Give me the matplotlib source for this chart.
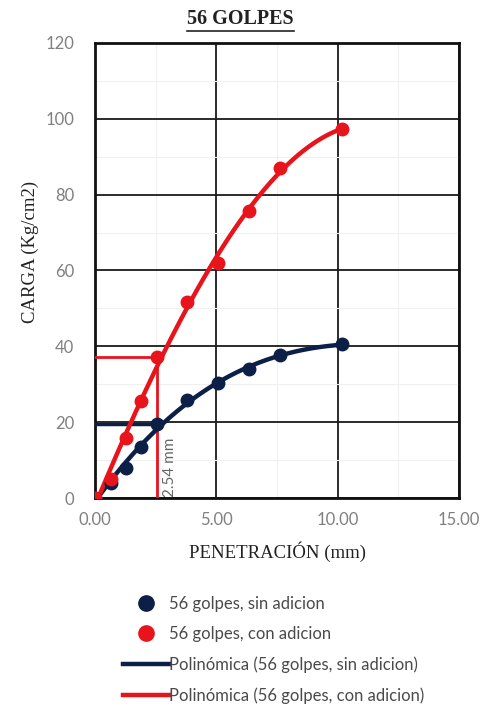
import numpy as np
import matplotlib
matplotlib.use("Agg")
import matplotlib.pyplot as plt
from matplotlib.lines import Line2D

# data
pen = [0.00, 0.64, 1.27, 1.91, 2.54, 3.81, 5.08, 6.35, 7.62, 10.16]
carga_sin = [0.0, 4.0, 8.0, 13.5, 19.4, 25.8, 30.4, 34.1, 37.6, 40.5]
carga_con = [0.0, 5.0, 15.8, 25.5, 37.2, 51.8, 62.0, 75.8, 87.0, 97.2]
ref_pen = 2.54
ref_sin = 19.5
ref_con = 37.2

navy = "#0c1f47"
red = "#e8141c"
gray = "#808080"

fig = plt.figure(figsize=(4.81, 7.09), dpi=100)
ax = fig.add_axes([0.1975, 0.2976, 0.7568, 0.6418])

# fitted polynomial trendlines
xs = np.linspace(0, max(pen), 200)
p_sin = np.polyfit(pen, carga_sin, 3)
p_con = np.polyfit(pen, carga_con, 3)

# reference lines at 2.54 mm
ax.plot([0, ref_pen], [ref_con, ref_con], color=red, lw=2, zorder=3)
ax.plot([ref_pen, ref_pen], [0, ref_con], color=red, lw=2, zorder=3)
ax.plot([0, ref_pen], [ref_sin, ref_sin], color=navy, lw=2.5, zorder=3)
ax.text(ref_pen + 0.25, 0.3, "2.54 mm", rotation=90, fontsize=11, color="#666666",
        ha="left", va="bottom", family="Lato", zorder=6)

ax.plot(xs, np.polyval(p_sin, xs), color=navy, lw=3.2, zorder=4)
ax.plot(xs, np.polyval(p_con, xs), color=red, lw=3.2, zorder=4)
ax.plot(pen, carga_sin, "o", color=navy, ms=9, zorder=5)
ax.plot(pen, carga_con, "o", color=red, ms=9, zorder=5)

ax.set_xlim(0, 15)
ax.set_ylim(0, 120)
ax.set_xticks([0, 5, 10, 15])
ax.set_xticklabels(["0.00", "5.00", "10.00", "15.00"])
ax.set_yticks([0, 20, 40, 60, 80, 100, 120])
ax.set_xticks(np.arange(0, 15.1, 2.5), minor=True)
ax.set_yticks(np.arange(0, 121, 10), minor=True)
ax.grid(True, which="major", color="#1a1a1a", lw=1.3)
ax.grid(True, which="minor", color="#f0f0f0", lw=0.8)
ax.set_axisbelow(True)
ax.tick_params(which="both", length=0, labelsize=12, labelcolor=gray)
ax.tick_params(axis="y", pad=15)
ax.tick_params(axis="x", pad=10)
for lab in ax.get_xticklabels() + ax.get_yticklabels():
    lab.set_family("Lato")
for s in ax.spines.values():
    s.set_linewidth(2)
    s.set_color("#111111")

ax.set_xlabel("PENETRACIÓN (mm)", family="Liberation Serif", fontsize=13.5, color="#222222", labelpad=10)
ax.set_ylabel("CARGA (Kg/cm2)", family="Liberation Serif", fontsize=13.5, color="#222222", labelpad=11)
ax.yaxis.set_label_coords(-0.155, 0.54)

# title with underline
t = fig.text(0.50, 0.973, "56 GOLPES", family="Liberation Serif", fontweight="bold",
             fontsize=14.5, color="#222222", ha="center", va="center")
fig.canvas.draw()
bb = t.get_window_extent().transformed(fig.transFigure.inverted())
fig.add_artist(Line2D([bb.x0, bb.x1], [bb.y0 - 0.002, bb.y0 - 0.002], color="#222222", lw=1.2,
                      transform=fig.transFigure))

handles = [
    Line2D([], [], ls="none", marker="o", color=navy, ms=11),
    Line2D([], [], ls="none", marker="o", color=red, ms=11),
    Line2D([], [], color=navy, lw=3.2),
    Line2D([], [], color=red, lw=3.2),
]
labels = ["56 golpes, sin adicion", "56 golpes, con adicion",
          "Polinómica (56 golpes, sin adicion)", "Polinómica (56 golpes, con adicion)"]
leg = fig.legend(handles, labels, loc="upper left", bbox_to_anchor=(0.256, 0.160),
                 frameon=False, prop={"family": "Lato", "size": 12}, labelcolor="#4a4a4a",
                 handlelength=2.75, handletextpad=0.0, labelspacing=0.86,
                 borderaxespad=0, borderpad=0)
leg.set_bbox_to_anchor((0.256, 0.160), transform=fig.transFigure)
fig.savefig("out.png", dpi=100)
